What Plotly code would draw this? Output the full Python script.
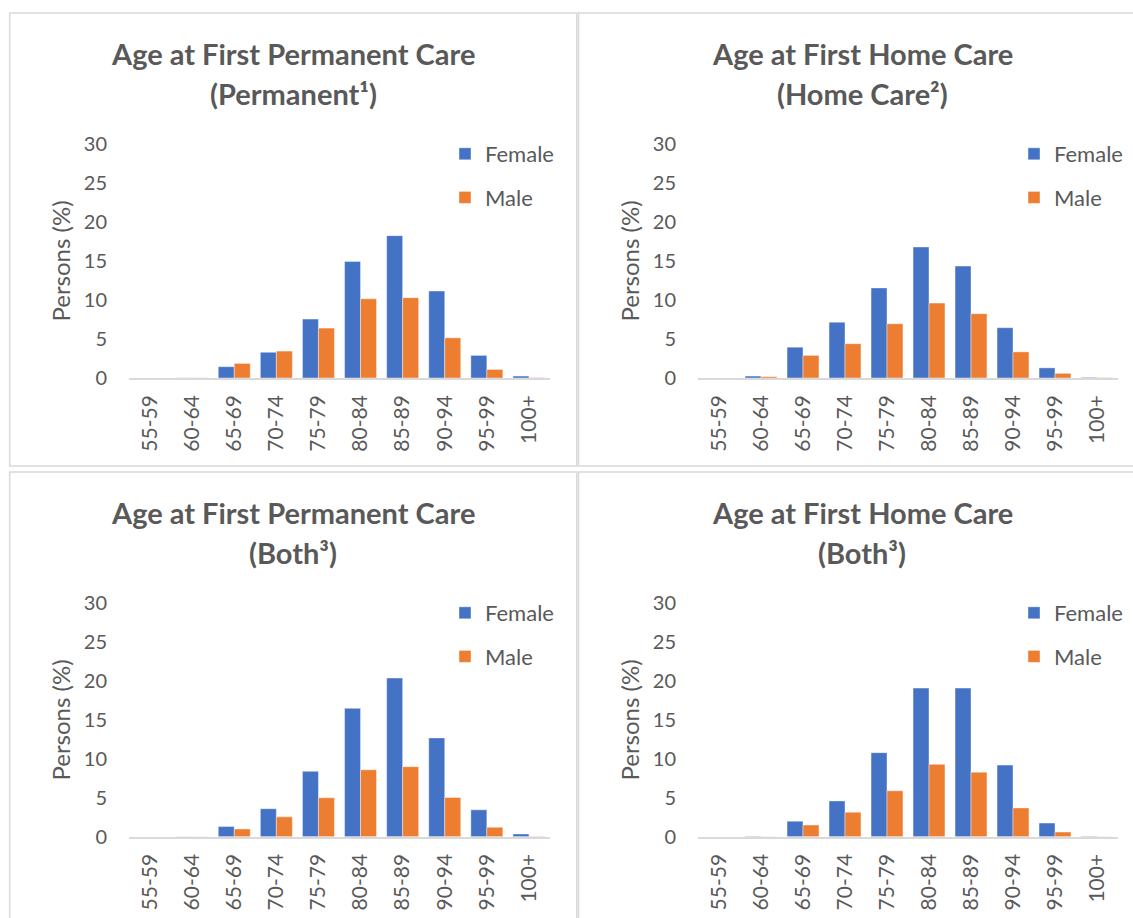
import plotly.graph_objects as go

# ---------------- data ----------------
categories = ["55-59", "60-64", "65-69", "70-74", "75-79",
              "80-84", "85-89", "90-94", "95-99", "100+"]

perm_female = [0, 0.02, 1.45, 3.3, 7.55, 14.95, 18.25, 11.15, 2.9, 0.25]
perm_male = [0, 0.02, 1.87, 3.45, 6.4, 10.15, 10.3, 5.15, 1.1, 0.05]

home_female = [0, 0.25, 3.95, 7.15, 11.55, 16.8, 14.35, 6.45, 1.3, 0.08]
home_male = [0, 0.17, 2.9, 4.4, 6.95, 9.6, 8.25, 3.35, 0.6, 0.04]

both_perm_female = [0, 0.02, 1.3, 3.6, 8.4, 16.5, 20.4, 12.7, 3.45, 0.35]
both_perm_male = [0, 0.02, 1.0, 2.55, 5.0, 8.6, 9.0, 5.05, 1.2, 0.05]

both_home_female = [0, 0.05, 2.0, 4.6, 10.8, 19.1, 19.1, 9.2, 1.75, 0.05]
both_home_male = [0, 0.03, 1.5, 3.15, 5.9, 9.3, 8.3, 3.7, 0.6, 0.02]

titles_line1 = ["Age at First Permanent Care", "Age at First Home Care",
                "Age at First Permanent Care", "Age at First Home Care"]
titles_line2 = ["(Permanent¹)", "(Home Care²)", "(Both³)", "(Both³)"]
series_names = ["Female", "Male"]
y_ticks = [0, 5, 10, 15, 20, 25, 30]
y_title = "Persons (%)"

female_sets = [perm_female, home_female, both_perm_female, both_home_female]
male_sets = [perm_male, home_male, both_perm_male, both_home_male]

# ---------------- layout geometry (pixels) ----------------
W, H = 1133, 918
FONT = "Lato"
GREY_TEXT = "#595959"
BORDER = "#D9D9D9"
C_F = "#4472C4"
C_M = "#ED7D31"

# plot areas: (x0, x1, ytop, ybottom)
plot_px = [(129, 550, 144, 378), (698, 1118, 144, 378),
           (129, 550, 603.3, 836.7), (698, 1118, 603.3, 836.7)]
# panel boxes: (x0, x1, ytop, ybottom)
box_px = [(9.7, 576.8, 13, 466), (578.5, 1150, 13, 466),
          (9.7, 576.8, 472, 930), (578.5, 1150, 472, 930)]
title_cx = [293, 862, 293, 862]
title_y1 = [53.3, 53.3, 512.8, 512.8]
title_y2 = [93.5, 93.5, 552.0, 552.0]
legend_px = [(445, 133), (1014, 133), (445, 592), (1014, 592)]


def px_x(v):
    return v / W


def px_y(v):
    return 1 - v / H


fig = go.Figure()
layout = dict(
    width=W, height=H,
    margin=dict(l=0, r=0, t=0, b=0, pad=0, autoexpand=False),
    paper_bgcolor="white", plot_bgcolor="white",
    barmode="group", bargap=0.24, bargroupgap=0.0,
    font=dict(family=FONT, color=GREY_TEXT, size=20),
    shapes=[], annotations=[],
)

for i in range(4):
    n = "" if i == 0 else str(i + 1)
    xa, ya = "x" + n, "y" + n
    leg = "legend" + n
    for name, vals, col in ((series_names[0], female_sets[i], C_F),
                            (series_names[1], male_sets[i], C_M)):
        fig.add_trace(go.Bar(
            x=categories, y=vals, name=name, xaxis=xa, yaxis=ya,
            marker=dict(color=col, line=dict(color="rgba(255,255,255,0.7)", width=0.6)),
            legend=leg, legendgroup=name + n, showlegend=True,
        ))
    x0, x1, yt, yb = plot_px[i]
    layout["xaxis" + n] = dict(
        domain=[px_x(x0), px_x(x1)], anchor=ya, type="category",
        showline=True, linecolor=BORDER, linewidth=1.5, showgrid=False,
        zeroline=False, ticks="", tickangle=-90, ticklabelstandoff=7,
        tickfont=dict(family=FONT, size=21, color=GREY_TEXT), fixedrange=True,
    )
    layout["yaxis" + n] = dict(
        domain=[px_y(yb), px_y(yt)], anchor=xa, range=[0, 30],
        tickvals=y_ticks, showline=False, showgrid=False, zeroline=False,
        ticks="", ticklabelstandoff=21,
        tickfont=dict(family=FONT, size=20, color=GREY_TEXT),
        title=dict(text=y_title, standoff=6,
                   font=dict(family=FONT, size=24, color=GREY_TEXT)),
        fixedrange=True,
    )
    lx, ly = legend_px[i]
    layout[leg] = dict(
        x=px_x(lx), y=px_y(ly), xanchor="left", yanchor="top",
        bgcolor="rgba(0,0,0,0)", traceorder="grouped", tracegroupgap=12,
        font=dict(family=FONT, size=22, color=GREY_TEXT),
    )
    bx0, bx1, byt, byb = box_px[i]
    layout["shapes"].append(dict(
        type="rect", xref="paper", yref="paper",
        x0=px_x(bx0), x1=px_x(bx1), y0=px_y(byb), y1=px_y(byt),
        line=dict(color=BORDER, width=1.5), layer="below",
    ))
    for txt, yy in ((titles_line1[i], title_y1[i]), (titles_line2[i], title_y2[i])):
        layout["annotations"].append(dict(
            text=txt, xref="paper", yref="paper",
            x=px_x(title_cx[i]), y=px_y(yy), xanchor="center", yanchor="middle",
            showarrow=False,
            font=dict(family=FONT, size=29, color=GREY_TEXT, weight="bold"),
        ))

fig.update_layout(**layout)
fig.write_html(
    "out.html",
    config={"displayModeBar": False},
    post_script="document.body.style.margin='0';document.body.style.overflow='hidden';",
)
